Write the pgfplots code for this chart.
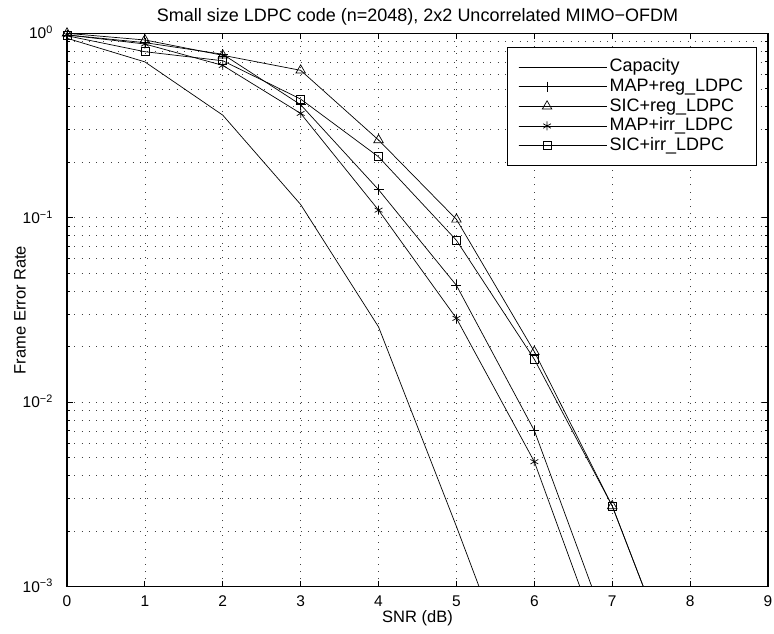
\documentclass[border=0pt]{standalone}
\usepackage{fontspec}
\setmainfont{Liberation Sans}
\usepackage{pgfplots}
\pgfplotsset{compat=1.18}

\newcommand{\titlefont}{\fontsize{18}{21}\selectfont}
\newcommand{\labfont}{\fontsize{16.5}{19}\selectfont}
\newcommand{\tickfont}{\fontsize{15.5}{18}\selectfont}
\pgfplotsset{
  matlabgrid/.style={dash pattern=on 1pt off 6.3pt, black!75, line width=0.6pt},
  curve/.style={black, line width=0.7pt, mark options={solid, line width=0.7pt}},
}

\begin{document}
\begin{tikzpicture}[font=\tickfont]
\begin{axis}[
  name=ax, at={(0,0)}, anchor=south west,
  scale only axis, width=701pt, height=553.4pt,
  ymode=log, xmin=0, xmax=9, ymin=1e-3, ymax=1,
  xtick={0,...,9}, ytick={1e-3,1e-2,1e-1,1},
  yticklabels={10\textsuperscript{−3},10\textsuperscript{−2},10\textsuperscript{−1},10\textsuperscript{0}},
  xticklabel style={font=\tickfont, anchor=center, yshift=-14.3pt, /pgf/number format/assume math mode=true},
  yticklabel style={font=\tickfont, anchor=base east, inner sep=0pt, xshift=-14pt, yshift=-5.5pt},
  tick align=inside, tick pos=both, major tick length=6pt, minor tick length=3.5pt,
  axis line style={line width=1.1pt},
  every tick/.style={black, line width=0.8pt},
  grid=both, major grid style={matlabgrid}, minor grid style={matlabgrid},
  title={Small size LDPC code (n=2048), 2x2 Uncorrelated MIMO−OFDM},
  every axis title/.style={font=\titlefont, at={(axis description cs:0.5,1)}, anchor=center, yshift=16.6pt},
  xlabel={SNR (dB)},
  every axis x label/.style={font=\labfont, at={(axis description cs:0.5,0)}, anchor=center, yshift=-32pt},
  ylabel={Frame Error Rate},
  every axis y label/.style={font=\labfont, at={(axis description cs:-0.067,0.5)}, anchor=center, rotate=90},
  legend cell align=left,
  legend style={at={(axis description cs:0.627,0.975)}, anchor=north west, draw=black, line width=0.8pt,
    font=\fontsize{18}{20}\selectfont,
    inner xsep=11.3pt, inner ysep=9.5pt, row sep=0pt,
    nodes={inner xsep=2pt, inner ysep=1.4pt, text height=13.2pt, text depth=3.7pt}},
  legend image code/.code={
    \draw[#1, mark indices={2}] plot coordinates {(0pt,0pt) (28.5pt,0pt) (57pt,0pt)};
    \path (0pt,0pt) -- (88.7pt,0pt);},
]
\addplot[curve] coordinates {(0,0.94) (1,0.70) (2,0.36) (3,0.118) (4,0.0256) (5,0.00212) (6,1.6e-4)};
\addplot[curve, mark=+, mark size=5pt, mark indices={1,...,7}] coordinates {(0,0.98) (1,0.89) (2,0.77) (3,0.41) (4,0.142) (5,0.043) (6,0.00702) (7,5e-4)};
\addplot[curve, mark=triangle, mark size=5.5pt, mark indices={1,...,8}] coordinates {(0,1.0) (1,0.92) (2,0.76) (3,0.63) (4,0.264) (5,0.098) (6,0.0188) (7,0.00274) (8,2.2e-4)};
\addplot[curve, mark=asterisk, mark size=4.5pt, mark indices={1,...,7}] coordinates {(0,0.98) (1,0.875) (2,0.67) (3,0.368) (4,0.110) (5,0.0285) (6,0.00476) (7,3.3e-4)};
\addplot[curve, mark=square, mark size=4pt, mark indices={1,...,8}] coordinates {(0,0.97) (1,0.795) (2,0.71) (3,0.44) (4,0.214) (5,0.0755) (6,0.0171) (7,0.00274) (8,2.2e-4)};
\legend{Capacity,MAP+reg\_LDPC,SIC+reg\_LDPC,MAP+irr\_LDPC,SIC+irr\_LDPC}
\end{axis}
\pgfresetboundingbox
\path (-67pt,-46.3pt) rectangle (707pt,586.7pt);
\end{tikzpicture}
\end{document}
